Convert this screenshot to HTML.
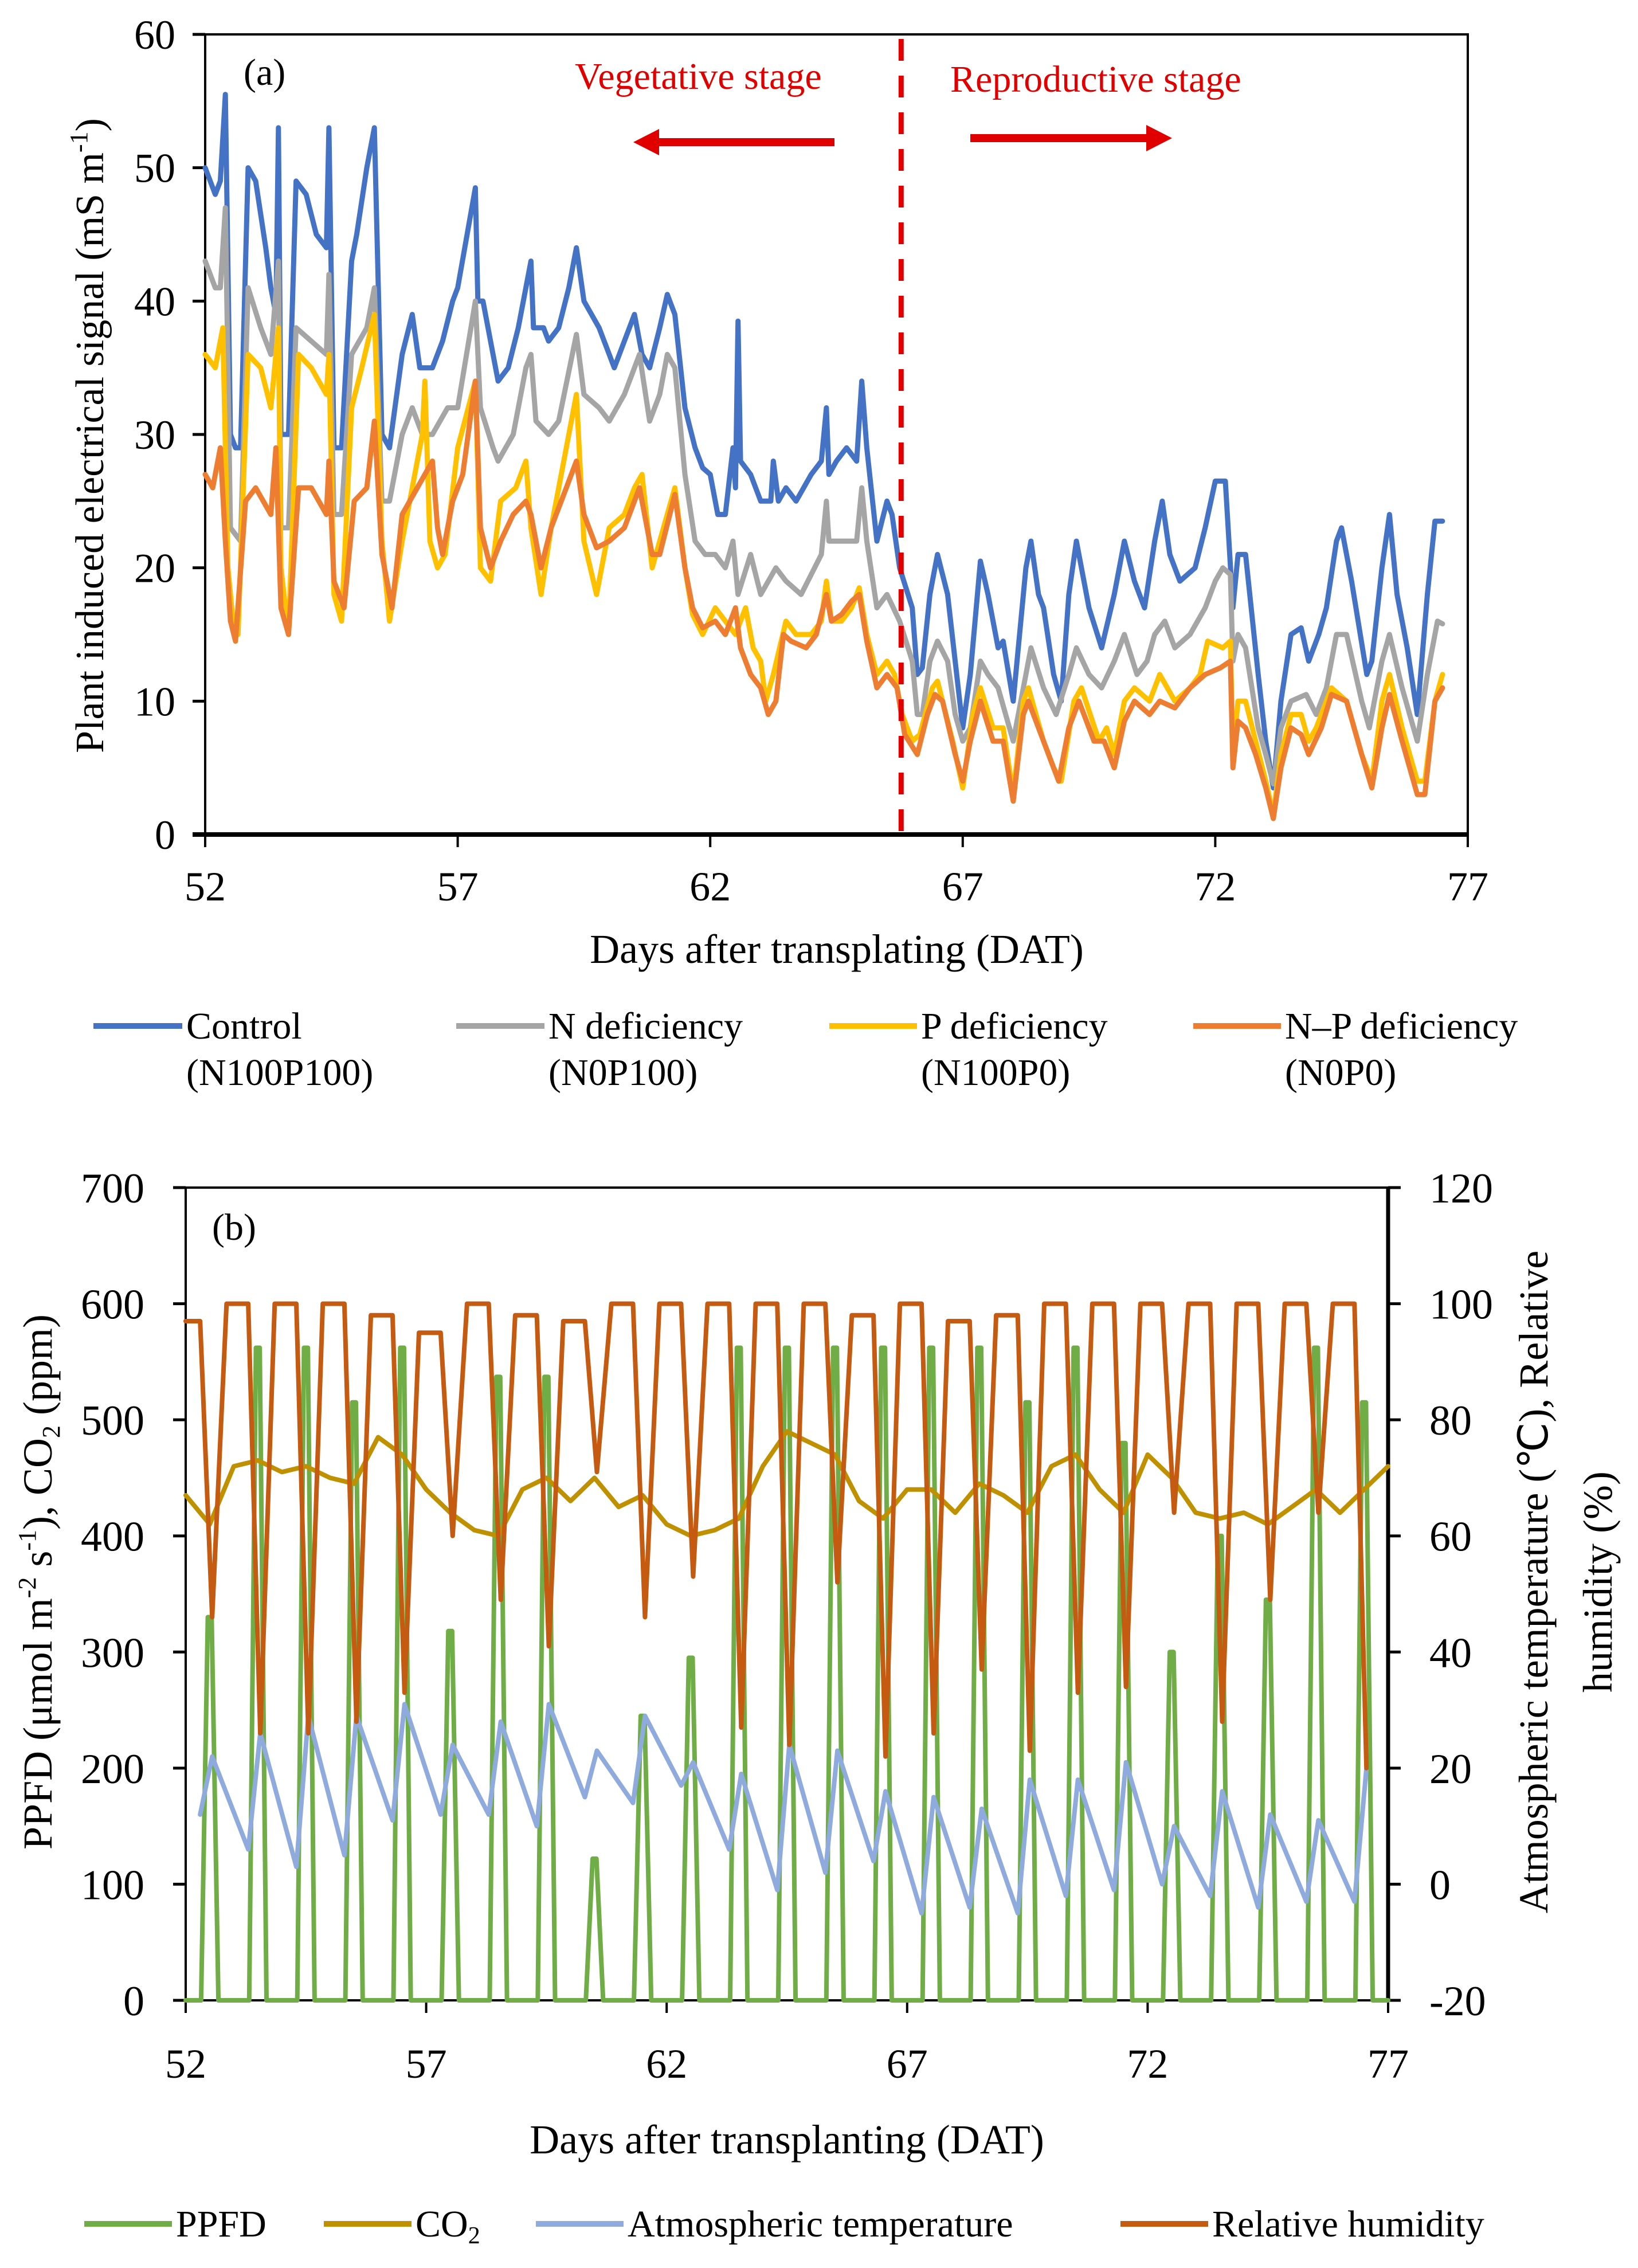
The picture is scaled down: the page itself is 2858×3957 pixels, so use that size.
<!DOCTYPE html>
<html><head><meta charset="utf-8"><style>
html,body{margin:0;padding:0;background:#fff;}
svg{display:block;font-family:"Liberation Serif",serif;}
</style></head><body>
<svg id="fig" width="2858" height="3957" viewBox="0 0 2858 3957" xmlns="http://www.w3.org/2000/svg">
<rect width="2858" height="3957" fill="#fff"/>
<g id="pa"></g>
<g id="pb"></g>
<text x="425" y="148" font-size="66">(a)</text>
<text x="1003" y="155" font-size="66" fill="#e00000">Vegetative stage</text>
<text x="1658" y="160" font-size="66" fill="#e00000">Reproductive stage</text>
<g fill="#e00000"><rect x="1150" y="241" width="306" height="14"/><polygon points="1105,248 1150,225 1150,271"/></g>
<g fill="#e00000"><rect x="1693" y="234" width="307" height="14"/><polygon points="2045,241 2000,218 2000,264"/></g>
<text transform="translate(180,760) rotate(-90)" text-anchor="middle" font-size="70">Plant induced electrical signal (mS m<tspan font-size="44" dy="-28">-1</tspan><tspan dy="28">)</tspan></text>
<text x="1460" y="1680" text-anchor="middle" font-size="72">Days after transplating (DAT)</text>
<g font-size="66">
<g><line x1="163" y1="1790" x2="318" y2="1790" stroke="#4472C4" stroke-width="10"/><text x="325" y="1812">Control</text><text x="325" y="1893">(N100P100)</text></g>
<g><line x1="796" y1="1790" x2="950" y2="1790" stroke="#A5A5A5" stroke-width="10"/><text x="957" y="1812">N deficiency</text><text x="957" y="1893">(N0P100)</text></g>
<g><line x1="1447" y1="1790" x2="1600" y2="1790" stroke="#FFC000" stroke-width="10"/><text x="1607" y="1812">P deficiency</text><text x="1607" y="1893">(N100P0)</text></g>
<g><line x1="2082" y1="1790" x2="2235" y2="1790" stroke="#ED7D31" stroke-width="10"/><text x="2242" y="1812">N–P deficiency</text><text x="2242" y="1893">(N0P0)</text></g>
</g>
<text x="370" y="2163" font-size="66">(b)</text>
<text transform="translate(90,2760) rotate(-90)" text-anchor="middle" font-size="72">PPFD (μmol m<tspan font-size="44" dy="-28">-2</tspan><tspan dy="28"> s</tspan><tspan font-size="44" dy="-28">-1</tspan><tspan dy="28">), CO</tspan><tspan font-size="44" dy="14">2</tspan><tspan dy="-14"> (ppm)</tspan></text>
<text transform="translate(2700,2760) rotate(-90)" text-anchor="middle" font-size="72">Atmospheric temperature (℃), Relative</text>
<text transform="translate(2812,2760) rotate(-90)" text-anchor="middle" font-size="72">humidity (%)</text>
<text x="1373" y="3757" text-anchor="middle" font-size="72">Days after transplanting (DAT)</text>
<g font-size="66">
<g><line x1="147" y1="3880" x2="300" y2="3880" stroke="#70AD47" stroke-width="10"/><text x="307" y="3902">PPFD</text></g>
<g><line x1="565" y1="3880" x2="718" y2="3880" stroke="#BF9000" stroke-width="10"/><text x="725" y="3902">CO<tspan font-size="42" dy="12">2</tspan></text></g>
<g><line x1="935" y1="3880" x2="1088" y2="3880" stroke="#8FAADC" stroke-width="10"/><text x="1095" y="3902">Atmospheric temperature</text></g>
<g><line x1="1955" y1="3880" x2="2108" y2="3880" stroke="#C55A11" stroke-width="10"/><text x="2115" y="3902">Relative humidity</text></g>
</g>
</svg>
<script>
const xTicksA = [52,57,62,67,72,77];
const yTicksA = [0,10,20,30,40,50,60];
const stageBoundaryDay = [65.78];
const control = [[52,50],[52.2,48],[52.3,49],[52.4,55.5],[52.5,30],[52.6,29],[52.7,29],[52.85,50],[53,49],[53.2,44],[53.3,41],[53.4,39],[53.45,53],[53.5,30],[53.65,30],[53.8,49],[54,48],[54.2,45],[54.4,44],[54.45,53],[54.55,29],[54.7,29],[54.9,43],[55,45],[55.2,50],[55.35,53],[55.5,30],[55.65,29],[55.9,36],[56.1,39],[56.25,35],[56.4,35],[56.5,35],[56.7,37],[56.9,40],[57,41],[57.35,48.5],[57.4,40],[57.5,40],[57.7,36],[57.8,34],[58,35],[58.2,38],[58.45,43],[58.5,38],[58.7,38],[58.8,37],[59,38],[59.2,41],[59.35,44],[59.5,40],[59.8,38],[60,36],[60.1,35],[60.3,37],[60.5,39],[60.65,36],[60.8,35],[61,38],[61.15,40.5],[61.3,39],[61.5,32],[61.7,29],[61.85,27.5],[62,27],[62.15,24],[62.3,24],[62.45,29],[62.5,26],[62.55,38.5],[62.6,28],[62.8,27],[63,25],[63.2,25],[63.25,28],[63.35,25],[63.5,26],[63.7,25],[64,27],[64.2,28],[64.3,32],[64.35,27],[64.5,28],[64.7,29],[64.9,28],[65,34],[65.1,29],[65.3,22],[65.5,25],[65.6,24],[65.75,20],[66,17],[66.1,12],[66.2,12.5],[66.35,18],[66.5,21],[66.7,18],[66.85,13],[67,8],[67.15,12],[67.35,20.5],[67.5,18],[67.7,14],[67.8,14.5],[68,10],[68.25,20],[68.35,22],[68.5,18],[68.6,17],[68.8,12],[68.95,10],[69.1,18],[69.25,22],[69.5,17],[69.75,14],[70,18],[70.2,22],[70.4,19],[70.6,17],[70.8,22],[70.95,25],[71.1,21],[71.3,19],[71.6,20],[71.8,23],[72,26.5],[72.2,26.5],[72.35,17],[72.45,21],[72.6,21],[72.85,12],[73,7],[73.15,3.5],[73.3,10],[73.5,15],[73.7,15.5],[73.85,13],[74.05,15],[74.2,17],[74.4,22],[74.5,23],[74.7,19],[75,12],[75.1,13],[75.3,20],[75.45,24],[75.6,18],[75.8,14],[76,9],[76.2,18],[76.35,23.5],[76.5,23.5]];
const nDef = [[52,43],[52.2,41],[52.3,41],[52.4,47],[52.5,23],[52.7,22],[52.85,41],[53.1,38],[53.3,36],[53.45,43],[53.5,23],[53.65,23],[53.8,38],[54.1,37],[54.4,36],[54.45,42],[54.55,24],[54.7,24],[54.9,36],[55.2,38],[55.35,41],[55.5,25],[55.65,25],[55.9,30],[56.1,32],[56.3,30],[56.5,30],[56.8,32],[57,32],[57.35,40],[57.45,32],[57.7,29],[57.8,28],[58.1,30],[58.35,35],[58.45,36],[58.55,31],[58.8,30],[59,31],[59.35,37.5],[59.5,33],[59.8,32],[60,31],[60.3,33],[60.6,36],[60.8,31],[61,33],[61.15,36],[61.3,35],[61.5,27],[61.7,22],[61.9,21],[62.1,21],[62.3,20],[62.45,22],[62.55,18],[62.8,21],[63,18],[63.3,20],[63.5,19],[63.8,18],[64.2,21],[64.3,25],[64.35,22],[64.6,22],[64.9,22],[65,26],[65.1,22],[65.3,17],[65.5,18],[65.75,16],[66,13],[66.1,9],[66.2,9],[66.35,13],[66.5,14.5],[66.7,13],[66.85,9],[67,7],[67.15,8],[67.35,13],[67.5,12],[67.7,11],[68,7],[68.25,12],[68.35,14],[68.6,11],[68.85,9],[69.1,12],[69.25,14],[69.5,12],[69.75,11],[70,13],[70.2,15],[70.45,12],[70.65,13],[70.8,15],[71,16],[71.2,14],[71.5,15],[71.8,17],[72,19],[72.15,20],[72.3,19.5],[72.35,13],[72.45,15],[72.6,14],[72.85,8],[73,6],[73.15,3.8],[73.3,8],[73.5,10],[73.8,10.5],[74,9],[74.2,11],[74.4,15],[74.6,15],[74.9,10],[75.05,8],[75.3,13],[75.45,15],[75.7,11],[76,7],[76.2,12],[76.4,16],[76.5,15.8]];
const pDef = [[52,36],[52.2,35],[52.35,38],[52.45,20],[52.55,16],[52.65,15],[52.85,36],[53.1,35],[53.3,32],[53.45,38],[53.5,20],[53.65,15],[53.85,36],[54.1,35],[54.4,33],[54.45,36],[54.55,18],[54.7,16],[54.9,32],[55.1,35],[55.35,39],[55.5,22],[55.65,16],[55.9,22],[56.1,26],[56.3,30],[56.35,34],[56.45,22],[56.6,20],[56.75,21],[57,29],[57.35,34],[57.45,20],[57.65,19],[57.85,25],[58.15,26],[58.35,28],[58.45,23],[58.65,18],[58.85,23],[59.15,29],[59.35,33],[59.5,22],[59.75,18],[60,23],[60.3,24],[60.5,26],[60.65,27],[60.85,20],[61,22],[61.3,26],[61.5,20],[61.65,16.5],[61.85,15],[62.1,17],[62.3,16],[62.5,15],[62.7,17],[62.85,14],[63,13],[63.1,10],[63.25,12],[63.5,16],[63.7,15],[64,15],[64.2,16],[64.3,19],[64.4,16],[64.6,16],[64.8,17],[64.95,18.5],[65.1,15],[65.3,12],[65.5,13],[65.65,12],[65.8,9],[66,7],[66.15,7.5],[66.4,11],[66.5,11.5],[66.8,7],[67,3.5],[67.2,9],[67.35,11],[67.6,8],[67.8,8],[68,3],[68.2,10],[68.3,11],[68.6,7],[68.8,5],[68.95,4],[69.2,10],[69.35,11],[69.7,7],[69.85,8],[70,6],[70.2,10],[70.4,11],[70.7,10],[70.9,12],[71.2,10],[71.5,11],[71.7,12],[71.85,14.5],[72.15,14],[72.3,14.5],[72.35,6],[72.45,10],[72.6,10],[72.8,7],[73,4],[73.15,1.5],[73.3,6],[73.5,9],[73.7,9],[73.85,7],[74,8],[74.3,11],[74.6,10],[74.9,6],[75.1,4],[75.3,10],[75.45,12],[75.7,8],[76,4],[76.15,4],[76.35,10],[76.5,12]];
const npDef = [[52,27],[52.15,26],[52.3,29],[52.4,22],[52.5,16],[52.6,14.5],[52.8,25],[53,26],[53.3,24],[53.4,29],[53.5,17],[53.65,15],[53.85,26],[54.1,26],[54.4,24],[54.45,28],[54.55,19],[54.75,17],[54.95,25],[55.2,26],[55.35,31],[55.5,21],[55.7,17],[55.9,24],[56.2,26],[56.5,28],[56.6,23],[56.7,21],[56.9,25],[57.1,27],[57.35,34],[57.45,23],[57.65,20],[57.85,22],[58.1,24],[58.35,25],[58.45,24],[58.65,20],[58.85,23],[59.15,26],[59.35,28],[59.5,24],[59.75,21.5],[60,22],[60.3,23],[60.6,26],[60.85,21],[61,21],[61.3,25.5],[61.5,20],[61.65,17],[61.85,15.5],[62.1,16],[62.3,15],[62.5,17],[62.6,14],[62.8,12],[63,11],[63.15,9],[63.3,10],[63.45,15],[63.6,14.5],[63.9,14],[64.1,15],[64.3,18],[64.4,16],[64.6,16.5],[64.8,17.5],[64.95,18],[65.1,14.5],[65.3,11],[65.5,12],[65.7,11],[65.85,7.5],[66.1,6],[66.3,9],[66.45,10.5],[66.6,10],[66.85,6],[67,4],[67.15,7],[67.35,10],[67.6,7],[67.8,7],[68,2.5],[68.2,9],[68.3,10],[68.5,8],[68.7,6],[68.9,4],[69.1,8],[69.3,10],[69.6,7],[69.8,7],[70,5],[70.2,8.5],[70.4,10],[70.7,9],[70.9,10],[71.2,9.5],[71.5,11],[71.8,12],[72.1,12.5],[72.3,13],[72.35,5],[72.45,8.5],[72.6,8],[72.8,6],[73,3.5],[73.15,1.2],[73.3,5],[73.5,8],[73.7,7.5],[73.85,6],[74.1,8],[74.3,10.5],[74.6,10],[74.9,6],[75.1,3.5],[75.3,8],[75.45,10.5],[75.7,7],[76,3],[76.15,3],[76.35,10],[76.5,11]];

const xTicksB = [52,57,62,67,72,77];
const yTicksBLeft = [0,100,200,300,400,500,600,700];
const yTicksBRight = [-20,0,20,40,60,80,100,120];
const bDays = [52,53,54,55,56,57,58,59,60,61,62,63,64,65,66,67,68,69,70,71,72,73,74,75,76];
const ppfdPeak = [330,562,562,515,562,318,537,537,122,245,295,562,562,562,562,562,562,515,562,480,300,400,345,562,515];
const rhMax = [97,100,100,100,98,95,100,98,97,100,100,100,100,100,98,100,97,98,100,100,100,100,100,100,100];
const rhMin = [46,26,26,28,33,60,49,41,71,46,53,27,24,52,22,26,37,23,33,34,64,28,49,64,20];
const tempMin = [12,6,3,5,11,12,12,10,15,14,17,6,-1,2,4,-5,-4,-5,-2,-1,0,-2,-4,-3,-3];
const tempMax = [22,26,29,29,31,24,28,31,23,29,21,19,24,23,16,15,13,18,18,21,10,16,12,11,20];
const co2 = [435,410,460,465,455,460,450,445,485,470,440,420,405,400,440,450,430,450,425,435,410,400,405,415,460,490,480,470,430,415,440,440,420,445,435,420,460,470,440,420,470,450,420,415,420,410,425,440,420,440,460];

const NS = 'http://www.w3.org/2000/svg';
function mk(tag, attrs, parent){const e=document.createElementNS(NS,tag);for(const k in attrs)e.setAttribute(k,attrs[k]);parent.appendChild(e);return e;}

const A = {l:358,r:2561,t:60,b:1456,d0:52,d1:77,v0:0,v1:60};
const xa = d => A.l+(d-A.d0)*(A.r-A.l)/(A.d1-A.d0);
const ya = v => A.b-(v-A.v0)*(A.b-A.t)/(A.v1-A.v0);
const B = {l:324,r:2422,t:2072,b:3490,d0:52,d1:77};
const xb = d => B.l+(d-B.d0)*(B.r-B.l)/(B.d1-B.d0);
const yb = v => B.b-v*(B.b-B.t)/700;
const yr = r => B.b-(r+20)*(B.b-B.t)/140;

const pa = document.getElementById('pa');
const pb = document.getElementById('pb');

function line(pts, color, w, parent, name){
  const p = mk('polyline',{points:pts.map(q=>q[0].toFixed(1)+','+q[1].toFixed(1)).join(' '),fill:'none',stroke:color,'stroke-width':w,'stroke-linejoin':'round','stroke-linecap':'round'},parent);
  
  
  return p;
}

let fr = mk('rect',{x:A.l,y:A.t,width:A.r-A.l,height:A.b-A.t,fill:'none',stroke:'#000','stroke-width':4},pa);


yTicksA.forEach(v=>{
  const t = mk('line',{x1:A.l-22,x2:A.l,y1:ya(v),y2:ya(v),stroke:'#000','stroke-width':5},pa);
  
  
  const lb = mk('text',{x:A.l-52,y:ya(v)+25,'text-anchor':'end','font-size':72},pa);
  lb.textContent = v;
  
  
});
xTicksA.forEach(d=>{
  const t = mk('line',{x1:xa(d),x2:xa(d),y1:A.b,y2:A.b+22,stroke:'#000','stroke-width':4},pa);
  
  
  const lb = mk('text',{x:xa(d),y:A.b+115,'text-anchor':'middle','font-size':72},pa);
  lb.textContent = d;
  
  
});
let xax = mk('line',{x1:A.l-22,x2:A.r,y1:A.b,y2:A.b,stroke:'#000','stroke-width':8},pa);



line(control.map(p=>[xa(p[0]),ya(p[1])]),'#4472C4',9,pa,'series-control');
line(nDef.map(p=>[xa(p[0]),ya(p[1])]),'#A5A5A5',9,pa,'series-n-deficiency');
line(pDef.map(p=>[xa(p[0]),ya(p[1])]),'#FFC000',9,pa,'series-p-deficiency');
line(npDef.map(p=>[xa(p[0]),ya(p[1])]),'#ED7D31',9,pa,'series-np-deficiency');
let dl = mk('line',{x1:xa(stageBoundaryDay[0]),x2:xa(stageBoundaryDay[0]),y1:A.t+8,y2:A.b,stroke:'#e00000','stroke-width':9,'stroke-dasharray':'38 26'},pa);



let frb = mk('rect',{x:B.l,y:B.t,width:B.r-B.l,height:B.b-B.t,fill:'none',stroke:'#000','stroke-width':4},pb);


yTicksBLeft.forEach(v=>{
  const t = mk('line',{x1:B.l-22,x2:B.l,y1:yb(v),y2:yb(v),stroke:'#000','stroke-width':5},pb);
  
  
  const lb = mk('text',{x:B.l-72,y:yb(v)+26,'text-anchor':'end','font-size':74},pb);
  lb.textContent = v;
  
  
});
yTicksBRight.forEach(r=>{
  const t = mk('line',{x1:B.r,x2:B.r+22,y1:yr(r),y2:yr(r),stroke:'#000','stroke-width':5},pb);
  
  
  const lb = mk('text',{x:B.r+72,y:yr(r)+26,'text-anchor':'start','font-size':74},pb);
  lb.textContent = r;
  
  
});
xTicksB.forEach(d=>{
  const t = mk('line',{x1:xb(d),x2:xb(d),y1:B.b,y2:B.b+22,stroke:'#000','stroke-width':4},pb);
  
  
  const lb = mk('text',{x:xb(d),y:B.b+135,'text-anchor':'middle','font-size':72},pb);
  lb.textContent = d;
  
  
});
let rax = mk('line',{x1:B.r,x2:B.r,y1:B.t,y2:B.b,stroke:'#000','stroke-width':7},pb);



const ppfdPts = [[xb(52),yb(0)]];
bDays.forEach((d,i)=>{ppfdPts.push([xb(d+0.32),yb(0)],[xb(d+0.46),yb(ppfdPeak[i])],[xb(d+0.54),yb(ppfdPeak[i])],[xb(d+0.68),yb(0)]);});
ppfdPts.push([xb(77),yb(0)]);
line(ppfdPts,'#70AD47',8,pb,'series-ppfd');

const co2Pts = co2.map((v,i)=>[xb(52+i*0.5),yb(v)]);
line(co2Pts,'#BF9000',8,pb,'series-co2');

const tPts = [];
bDays.forEach((d,i)=>{tPts.push([xb(d+0.3),yr(tempMin[i])],[xb(d+0.55),yr(tempMax[i])]);});
line(tPts,'#8FAADC',8,pb,'series-temperature');

const rhPts = [];
bDays.forEach((d,i)=>{rhPts.push([xb(Math.max(52,d-0.15)),yr(rhMax[i])],[xb(d+0.3),yr(rhMax[i])],[xb(d+0.55),yr(rhMin[i])]);});
line(rhPts,'#C55A11',8,pb,'series-humidity');
</script>
</body></html>
